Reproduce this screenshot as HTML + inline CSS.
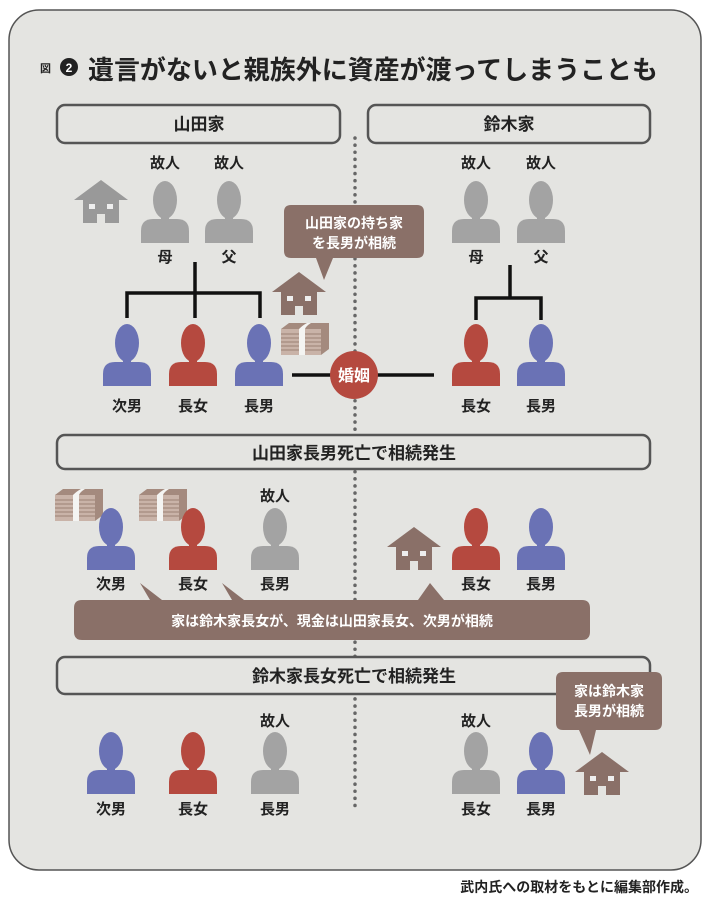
<!DOCTYPE html>
<html><head><meta charset="utf-8"><style>
html,body{margin:0;padding:0;background:#fff}
svg{display:block}
text{font-family:"Liberation Sans","Noto Sans CJK JP",sans-serif;font-weight:bold}
</style></head><body>
<svg width="710" height="906" viewBox="0 0 710 906" xmlns="http://www.w3.org/2000/svg">
<defs>
<g id="p"><ellipse cx="0" cy="-43" rx="12" ry="19"/><rect x="-4" y="-27" width="8" height="5"/><path d="M-24 0V-12Q-24-24-12-24H12Q24-24 24-12V0Z"/></g>
<g id="h"><path d="M0 0L27 20H-27Z"/><path d="M-18 18H18V43H4V34H-4V43H-18Z"/><rect x="-12" y="24" width="6" height="5" fill="#eee"/><rect x="6" y="24" width="6" height="5" fill="#eee"/></g>
<g id="m"><path d="M0 6L8 0H48L48 26L40 32H0Z" fill="#a48a7e"/><path d="M0 6H40V32H0Z" fill="#c9b3a8"/><g stroke="#9a8074" stroke-width="1"><line x1="0" y1="11" x2="40" y2="11"/><line x1="0" y1="15" x2="40" y2="15"/><line x1="0" y1="19" x2="40" y2="19"/><line x1="0" y1="23" x2="40" y2="23"/><line x1="0" y1="27" x2="40" y2="27"/></g><path d="M18 6Q22 2 26 0L30 0Q25 3 24 6V32H18Z" fill="#f4f4f2"/></g>
</defs>
<rect x="9" y="10" width="692" height="860" rx="30" fill="#e4e4e1" stroke="#555" stroke-width="1.5"/>
<text x="40" y="72" font-size="11" fill="#222">図</text>
<circle cx="69" cy="67" r="9" fill="#222"/><text x="69" y="72" font-size="12" fill="#fff" text-anchor="middle">2</text>
<text x="88" y="79" font-size="26" fill="#222" textLength="570" lengthAdjust="spacingAndGlyphs">遺言がないと親族外に資産が渡ってしまうことも</text>
<line x1="355" y1="138" x2="355" y2="808" stroke="#666" stroke-width="3.5" stroke-dasharray="0.1 7" stroke-linecap="round"/>
<g fill="#e4e4e1" stroke="#555" stroke-width="2.5">
<rect x="57" y="105" width="283" height="38" rx="8"/><rect x="368" y="105" width="282" height="38" rx="8"/>
<rect x="57" y="435" width="593" height="34" rx="8"/><rect x="57" y="657" width="593" height="37" rx="8"/>
</g>
<g font-size="17" fill="#222" text-anchor="middle">
<text x="199" y="130">山田家</text><text x="509" y="130">鈴木家</text>
<text x="354" y="459">山田家長男死亡で相続発生</text><text x="354" y="682">鈴木家長女死亡で相続発生</text>
</g>
<!-- row1 -->
<use href="#h" x="101" y="180" fill="#999"/>
<g fill="#a3a3a3"><use href="#p" x="165" y="243"/><use href="#p" x="229" y="243"/><use href="#p" x="476" y="243"/><use href="#p" x="541" y="243"/></g>
<g font-size="15" fill="#222" text-anchor="middle">
<text x="165" y="168">故人</text><text x="229" y="168">故人</text><text x="476" y="168">故人</text><text x="541" y="168">故人</text>
<text x="165" y="262">母</text><text x="229" y="262">父</text><text x="476" y="262">母</text><text x="541" y="262">父</text>
</g>
<g stroke="#111" stroke-width="3.5" fill="none">
<path d="M195 262V318M127 318V293H260V318"/><path d="M510 265V298M476 320V298H541V320"/>
<line x1="292" y1="375" x2="434" y2="375"/>
</g>
<use href="#p" x="127" y="386" fill="#6a72b5"/><use href="#p" x="193" y="386" fill="#b5493f"/><use href="#p" x="259" y="386" fill="#6a72b5"/>
<use href="#p" x="476" y="386" fill="#b5493f"/><use href="#p" x="541" y="386" fill="#6a72b5"/>
<g font-size="15" fill="#222" text-anchor="middle">
<text x="127" y="411">次男</text><text x="193" y="411">長女</text><text x="259" y="411">長男</text><text x="476" y="411">長女</text><text x="541" y="411">長男</text>
</g>
<circle cx="354" cy="375" r="24" fill="#b5493f"/><text x="354" y="381" font-size="16" fill="#fff" text-anchor="middle">婚姻</text>
<path d="M291 205H417Q424 205 424 212V251Q424 258 417 258H333L324 280L316 258H291Q284 258 284 251V212Q284 205 291 205Z" fill="#8a7068"/>
<text x="354" y="228" font-size="14" fill="#fff" text-anchor="middle" font-weight="normal">山田家の持ち家</text>
<text x="354" y="248" font-size="14" fill="#fff" text-anchor="middle" font-weight="normal">を長男が相続</text>
<use href="#h" x="299" y="272" fill="#8a7068"/>
<use href="#m" x="281" y="323"/>
<!-- row2 -->
<use href="#m" x="55" y="489"/><use href="#m" x="139" y="489"/>
<use href="#p" x="111" y="570" fill="#6a72b5"/><use href="#p" x="193" y="570" fill="#b5493f"/><use href="#p" x="275" y="570" fill="#a3a3a3"/>
<use href="#h" x="414" y="527" fill="#8a7068"/>
<use href="#p" x="476" y="570" fill="#b5493f"/><use href="#p" x="541" y="570" fill="#6a72b5"/>
<g font-size="15" fill="#222" text-anchor="middle">
<text x="275" y="501">故人</text>
<text x="111" y="589">次男</text><text x="193" y="589">長女</text><text x="275" y="589">長男</text><text x="476" y="589">長女</text><text x="541" y="589">長男</text>
</g>
<path d="M82 600H150L140 583L162 600H232L222 583L244 600H418L430 583L444 600H582Q590 600 590 608V632Q590 640 582 640H82Q74 640 74 632V608Q74 600 82 600Z" fill="#8a7068"/>
<text x="332" y="626" font-size="14" fill="#fff" text-anchor="middle" font-weight="normal">家は鈴木家長女が、現金は山田家長女、次男が相続</text>
<!-- row3 -->
<use href="#p" x="111" y="794" fill="#6a72b5"/><use href="#p" x="193" y="794" fill="#b5493f"/><use href="#p" x="275" y="794" fill="#a3a3a3"/>
<use href="#p" x="476" y="794" fill="#a3a3a3"/><use href="#p" x="541" y="794" fill="#6a72b5"/>
<g font-size="15" fill="#222" text-anchor="middle">
<text x="275" y="726">故人</text><text x="476" y="726">故人</text>
<text x="111" y="814">次男</text><text x="193" y="814">長女</text><text x="275" y="814">長男</text><text x="476" y="814">長女</text><text x="541" y="814">長男</text>
</g>
<path d="M563 672H655Q662 672 662 679V723Q662 730 655 730H596L590 755L579 730H563Q556 730 556 723V679Q556 672 563 672Z" fill="#8a7068"/>
<text x="609" y="696" font-size="14" fill="#fff" text-anchor="middle" font-weight="normal">家は鈴木家</text>
<text x="609" y="716" font-size="14" fill="#fff" text-anchor="middle" font-weight="normal">長男が相続</text>
<use href="#h" x="602" y="752" fill="#8a7068"/>
<text x="698" y="892" font-size="14" fill="#222" text-anchor="end" font-weight="normal">武内氏への取材をもとに編集部作成。</text>
</svg>
</body></html>
